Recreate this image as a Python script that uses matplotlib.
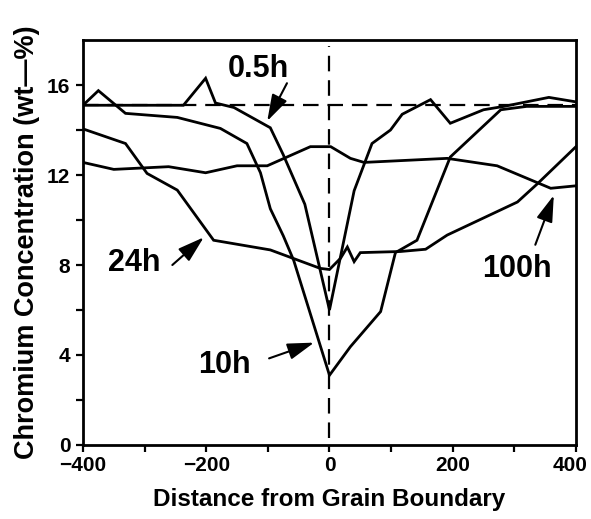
import numpy as np
import matplotlib.pyplot as plt
from matplotlib.transforms import ScaledTranslation

plt.rcParams['font.family'] = ['Liberation Sans', 'DejaVu Sans']
plt.rcParams['font.weight'] = 'bold'

# Cr profiles across the grain boundary for each ageing time
x_05h = [-400, -237, -201, -185, -155, -96, -75, -40, 0, 40, 69, 99, 118, 164, 196, 250, 283, 356, 400]
cr_05h = [15.1, 15.1, 16.3, 15.2, 15.0, 14.1, 12.9, 10.7, 6.0, 11.3, 13.4, 14.0, 14.7, 15.35, 14.3, 14.9, 15.05, 15.45, 15.25]

x_10h = [-400, -375, -331, -247, -177, -134, -112, -96, -75, -58, 0, 34, 83, 107, 142, 196, 278, 320, 400]
cr_10h = [15.1, 15.75, 14.74, 14.56, 14.07, 13.4, 12.1, 10.5, 9.3, 8.2, 3.1, 4.37, 5.93, 8.55, 9.1, 12.8, 14.9, 15.05, 15.05]

x_24h = [-400, -331, -296, -247, -188, -96, -15, 0, 18, 29, 40, 50, 115, 156, 191, 305, 337, 400]
cr_24h = [14.05, 13.4, 12.07, 11.33, 9.1, 8.67, 7.85, 7.8, 8.3, 8.8, 8.15, 8.55, 8.6, 8.7, 9.33, 10.8, 11.6, 13.26]

x_100h = [-400, -350, -261, -201, -150, -101, -31, 2, 34, 56, 191, 272, 359, 400]
cr_100h = [12.56, 12.25, 12.37, 12.1, 12.41, 12.41, 13.26, 13.26, 12.74, 12.56, 12.74, 12.41, 11.41, 11.52]

bulk_cr = 15.1

x_major = [-400, -200, 0, 200, 400]
x_minor = [-300, -100, 100, 300]
y_major = [0, 4, 8, 12, 16]
y_minor = [2, 6, 10, 14]

# label text, text position, arrow tail, arrow tip
labels = ['0.5h', '24h', '10h', '100h']
label_pos = [(-116, 16.7), (-317, 8.07), (-170, 3.56), (304, 7.84)]
arrow_tail = [(-69, 16.08), (-255, 8.0), (-98, 3.85), (334, 8.9)]
arrow_tip = [(-101, 14.4), (-204, 9.23), (-25, 4.55), (364, 11.1)]

fig = plt.figure(figsize=(5.91, 5.19), dpi=100)
ax = fig.add_axes([0.1404, 0.1426, 0.8342, 0.7803])

lw = 2.0
for xs, ys in [(x_05h, cr_05h), (x_10h, cr_10h), (x_24h, cr_24h), (x_100h, cr_100h)]:
    ax.plot(xs, ys, color='black', lw=lw, solid_joinstyle='miter')

ax.axhline(bulk_cr, color='black', lw=1.6, dashes=(7, 4))
ax.plot([0, 0], [0.3, 17.75], color='black', lw=1.6, dashes=(7, 4))

for text, pos, tail, tip in zip(labels, label_pos, arrow_tail, arrow_tip):
    ax.text(pos[0], pos[1], text, fontsize=22, fontweight='bold',
            ha='center', va='center')
    ax.annotate('', xy=tip, xytext=tail,
                arrowprops=dict(arrowstyle='-|>,head_length=0.9,head_width=0.28',
                                mutation_scale=18, color='black', lw=1.5,
                                shrinkA=0, shrinkB=0))

ax.set_xticks(x_major)
ax.set_xticks(x_minor, minor=True)
ax.set_yticks(y_major)
ax.set_yticks(y_minor, minor=True)
ax.set_xlim(-400, 400)
ax.set_ylim(0, 18)

ax.tick_params(which='both', direction='out', width=1.6, length=5, labelsize=15)
ax.tick_params(axis='x', pad=3)
ax.tick_params(axis='y', pad=4)
for sp in ax.spines.values():
    sp.set_linewidth(2.0)

ax.set_xlabel('Distance from Grain Boundary', fontsize=17.5, fontweight='bold', labelpad=9)
ax.set_ylabel('Chromium Concentration (wt\u2014%)', fontsize=19.5, fontweight='bold', labelpad=5)

# pull the "400" label in a little so it stays on the canvas
last = ax.get_xticklabels()[-1]
last.set_transform(last.get_transform() + ScaledTranslation(-4 / 72, 0, fig.dpi_scale_trans))

fig.savefig('out.png', dpi=100)
